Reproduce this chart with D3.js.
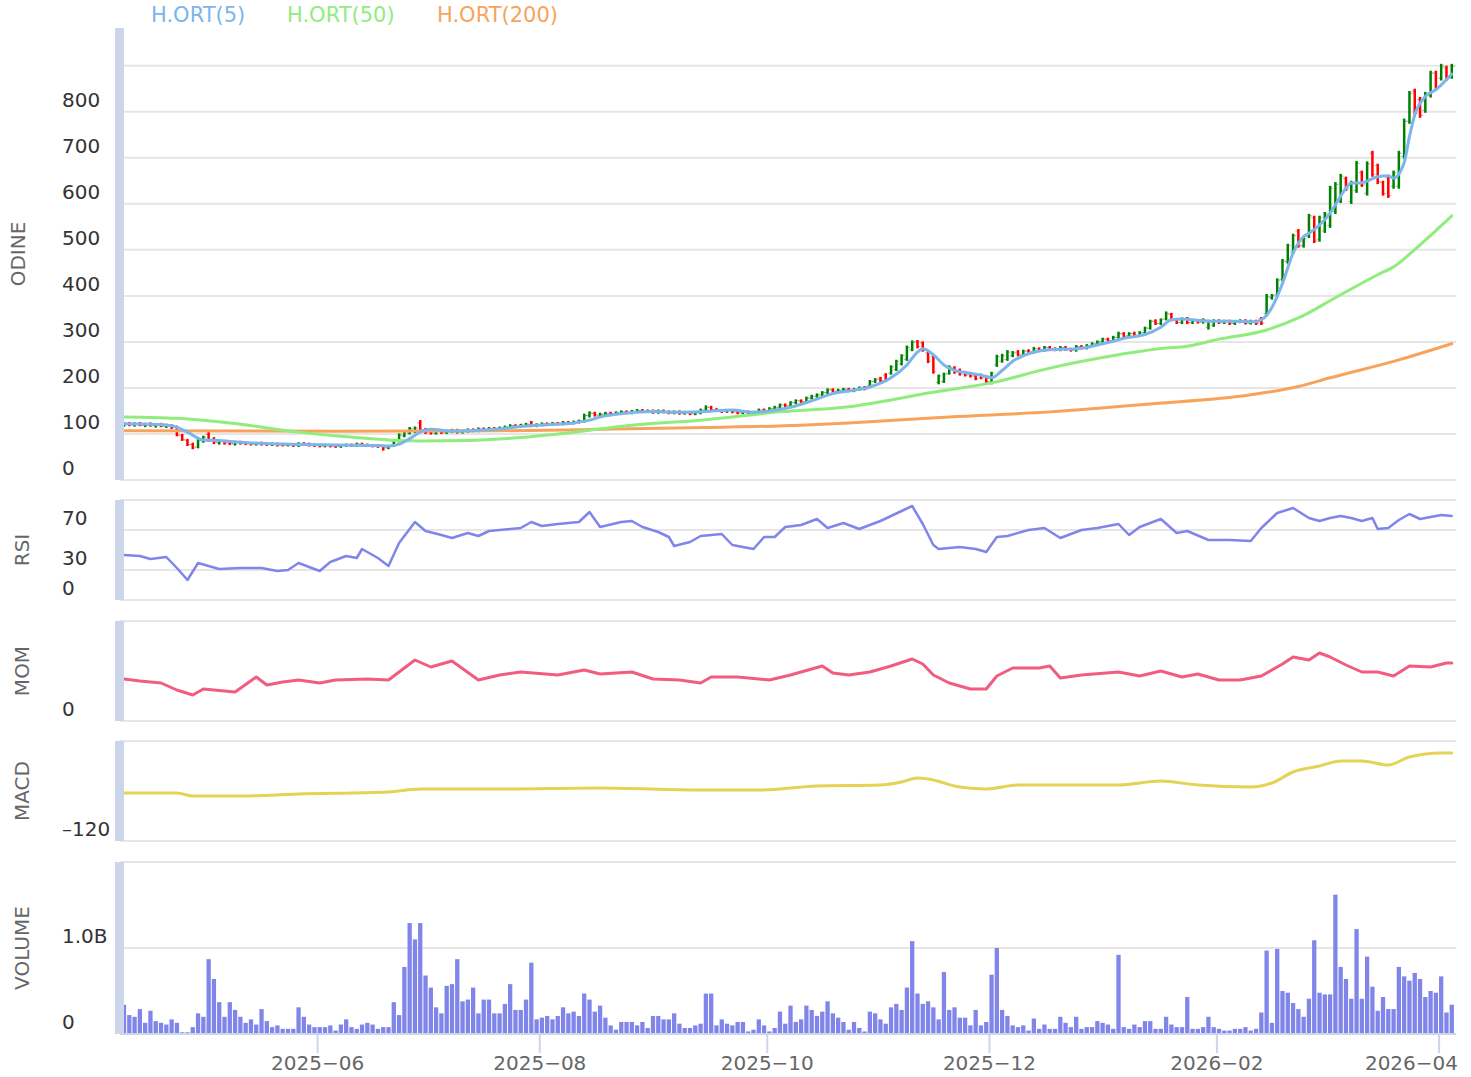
<!DOCTYPE html>
<html>
<head>
<meta charset="utf-8">
<script src="https://cdn.jsdelivr.net/npm/d3@7.9.0/dist/d3.min.js"></script>
<style>
  body { margin: 0; background: #fff; }
  svg { display: block; font-family: "DejaVu Sans", sans-serif; }
</style>
</head>
<body>
<svg id="chart" width="1471" height="1077"></svg>
<script>
// trading calendar
const firstDay = '2025-04-08';
const barCount = 252;
const holidays = ['2025-04-18', '2025-05-26', '2025-06-19', '2025-07-04', '2025-11-27', '2025-12-25', '2026-01-01'];
const monthTicks = ['2025-06', '2025-08', '2025-10', '2025-12', '2026-02', '2026-04'];

// [open, high, low, close]
const ohlc = [
  [120,123,118,121],[121,124,119,120],[120,123,118,122],[122,124,119,119],[119,122,117,121],
  [121,123,118,118],[118,121,116,120],[120,122,117,117],[117,120,115,118],[118,119,113,114],
  [114,116,97,98],[97,98,87,88],[86,87,76,77],[77,79,69,70],[72,87,71,86],
  [85,94,83,93],[99,102,85,86],[88,91,80,82],[81,86,79,85],[84,85,79,80],
  [81,82,78,79],[78,83,77,82],[82,83,79,80],[80,81,78,79],[79,80,77,78],
  [78,80,77,79],[80,81,77,78],[78,79,76,77],[77,79,76,78],[78,79,75,76],
  [77,78,75,76],[76,78,75,77],[77,78,74,75],[75,80,74,79],[79,80,77,78],
  [78,79,75,76],[76,77,74,75],[75,76,73,74],[74,76,73,75],[75,76,73,74],
  [74,75,72,73],[73,76,72,75],[75,77,74,76],[76,77,74,75],[75,79,74,78],
  [78,79,75,76],[76,77,74,75],[75,76,73,74],[74,75,72,73],[73,74,66,70],
  [70,74,69,73],[75,84,74,83],[85,99,84,98],[96,106,95,105],[102,113,101,112],
  [106,114,104,113],[124,128,107,108],[110,111,102,103],[106,107,101,102],[102,107,101,106],
  [106,107,102,103],[103,106,102,105],[105,109,104,108],[108,109,103,104],[104,107,103,106],
  [106,110,105,109],[109,110,106,107],[107,112,106,111],[111,112,108,109],[109,113,108,112],
  [112,113,109,110],[110,114,109,113],[113,116,112,115],[115,119,114,118],[118,119,115,116],
  [116,120,115,119],[119,122,118,121],[121,126,117,118],[118,121,117,120],[120,123,119,122],
  [122,123,120,121],[121,124,120,123],[123,124,121,122],[122,126,121,125],[125,126,123,124],
  [124,127,123,126],[126,129,125,128],[128,142,127,140],[140,147,138,145],[145,146,140,141],
  [141,144,140,143],[143,146,142,145],[145,146,143,144],[144,147,143,146],[146,149,145,148],
  [148,149,145,146],[146,150,145,149],[149,152,148,151],[151,152,148,149],[149,151,148,150],
  [150,151,146,147],[147,151,146,150],[150,151,147,148],[148,149,145,146],[146,149,145,148],
  [148,149,144,145],[145,148,144,147],[147,148,143,144],[144,147,143,146],[146,153,145,152],
  [152,160,151,158],[158,159,152,153],[153,154,150,151],[151,152,148,149],[149,152,148,151],
  [151,152,147,148],[148,149,145,146],[146,149,145,148],[148,149,144,145],[145,148,144,147],
  [147,153,146,152],[152,153,149,150],[150,156,149,155],[155,159,154,158],[158,164,157,163],
  [163,164,160,161],[161,169,160,168],[168,173,167,172],[172,173,169,170],[170,179,169,178],
  [178,183,177,182],[182,186,181,185],[185,191,184,190],[190,197,189,196],[196,197,192,193],
  [193,196,192,195],[195,198,194,197],[197,198,193,194],[194,198,193,197],[197,201,196,200],
  [200,202,197,198],[205,215,204,214],[214,219,213,218],[220,222,215,216],[228,230,219,220],
  [232,247,231,246],[240,259,239,258],[252,271,251,270],[262,290,261,288],[283,301,282,300],
  [300,302,288,290],[298,299,281,282],[276,277,256,258],[268,270,233,235],[212,227,210,226],
  [214,231,213,230],[232,247,231,245],[243,245,233,235],[238,240,229,230],[234,235,227,228],
  [230,231,225,226],[226,228,219,220],[228,229,221,222],[224,225,210,214],[212,233,210,232],
  [250,270,248,268],[258,272,257,270],[262,280,261,278],[270,278,269,276],[278,280,271,272],
  [272,281,271,280],[280,282,277,278],[278,287,277,285],[285,286,281,282],[282,289,281,288],
  [288,289,284,285],[285,286,282,283],[283,289,282,288],[288,289,283,284],[284,285,281,282],
  [282,291,281,290],[290,291,286,287],[287,293,286,292],[292,297,291,296],[296,301,295,300],
  [300,307,299,306],[306,307,302,303],[303,311,302,310],[310,320,309,318],[318,319,311,312],
  [314,319,313,318],[318,320,313,314],[314,321,313,320],[320,331,319,330],[330,346,329,345],
  [345,347,339,340],[340,349,339,348],[350,364,349,362],[360,361,347,348],[348,349,341,342],
  [342,351,341,350],[350,352,341,342],[342,347,341,346],[346,347,342,343],[343,349,342,348],
  [332,346,329,344],[336,347,335,346],[346,347,341,342],[342,346,341,345],[345,346,339,340],
  [340,345,339,344],[344,347,343,346],[346,347,340,341],[341,346,340,345],[345,346,339,340],
  [350,352,339,341],[362,402,360,398],[396,402,394,400],[402,436,400,434],[436,478,434,476],
  [474,511,472,509],[495,533,493,531],[541,543,507,509],[509,526,507,524],[530,576,528,574],
  [570,572,517,519],[522,572,520,570],[541,580,539,578],[553,637,550,634],[583,645,580,642],
  [607,663,604,660],[655,657,630,632],[605,648,602,646],[629,691,626,688],[668,670,639,641],
  [623,690,620,687],[710,713,661,664],[683,685,645,648],[646,648,620,622],[656,659,615,618],
  [638,670,635,667],[638,713,635,710],[703,783,700,780],[779,843,776,840],[845,848,793,796],
  [827,830,789,792],[803,841,800,838],[836,887,833,884],[884,887,848,851],[873,902,870,899],
  [895,898,870,873],[877,902,874,899]
];

// volume in billions
const volume = [
  0.34,0.22,0.20,0.29,0.13,0.27,0.15,0.13,0.11,0.17,
  0.13,0.02,0.02,0.08,0.24,0.20,0.87,0.64,0.37,0.20,
  0.37,0.28,0.20,0.13,0.17,0.11,0.29,0.15,0.08,0.10,
  0.06,0.06,0.06,0.31,0.20,0.11,0.08,0.08,0.08,0.10,
  0.04,0.11,0.17,0.08,0.06,0.11,0.13,0.11,0.06,0.08,
  0.08,0.37,0.22,0.78,1.29,1.10,1.29,0.68,0.54,0.31,
  0.24,0.56,0.58,0.87,0.38,0.40,0.54,0.24,0.40,0.40,
  0.24,0.24,0.35,0.58,0.28,0.28,0.40,0.83,0.17,0.19,
  0.21,0.17,0.21,0.31,0.24,0.26,0.21,0.47,0.40,0.26,
  0.33,0.19,0.10,0.05,0.14,0.14,0.14,0.10,0.14,0.07,
  0.21,0.21,0.17,0.17,0.24,0.12,0.07,0.07,0.10,0.12,
  0.47,0.47,0.10,0.17,0.12,0.10,0.14,0.14,0.03,0.05,
  0.17,0.10,0.03,0.07,0.26,0.12,0.33,0.14,0.17,0.33,
  0.28,0.21,0.26,0.38,0.24,0.19,0.14,0.05,0.14,0.07,
  0.03,0.26,0.24,0.17,0.12,0.31,0.35,0.28,0.54,1.08,
  0.47,0.35,0.38,0.31,0.17,0.72,0.28,0.31,0.19,0.19,
  0.10,0.28,0.10,0.14,0.69,1.00,0.28,0.21,0.10,0.08,
  0.10,0.04,0.18,0.06,0.11,0.06,0.06,0.20,0.13,0.08,
  0.20,0.06,0.08,0.08,0.15,0.13,0.11,0.06,0.92,0.08,
  0.06,0.11,0.08,0.15,0.15,0.06,0.06,0.20,0.11,0.08,
  0.08,0.43,0.06,0.06,0.08,0.20,0.08,0.06,0.04,0.04,
  0.06,0.06,0.08,0.04,0.06,0.25,0.97,0.13,0.99,0.50,
  0.48,0.36,0.29,0.20,0.41,1.09,0.48,0.46,0.46,1.62,
  0.78,0.64,0.41,1.22,0.41,0.90,0.55,0.27,0.43,0.29,
  0.29,0.78,0.67,0.62,0.71,0.64,0.43,0.50,0.48,0.67,
  0.25,0.34
];

// [bar index, value]
const ma5 = [
  [0,122],[5,121],[9,118],[12,104],[15,87],[18,86],[22,82],[30,78],[40,76],[48,75],[50,74],
  [52,78],[54,90],[56,104],[58,110],[62,106],[66,107],[70,110],[75,116],[80,120],[85,124],
  [88,130],[90,137],[93,143],[100,149],[105,147],[110,149],[115,152],[119,147],[122,150],
  [126,158],[130,172],[134,188],[138,195],[141,202],[145,222],[148,250],[150,278],[151,285],
  [153,272],[155,250],[157,238],[160,232],[163,225],[164,222],[166,238],[168,258],[170,270],
  [175,283],[180,285],[185,296],[190,310],[193,316],[196,332],[198,348],[200,350],[205,345],
  [210,345],[214,344],[215,348],[216,358],[217,375],[219,427],[221,493],[223,529],[224,536],
  [226,554],[228,580],[229,598],[231,634],[232,645],[234,646],[237,659],[239,661],[240,656],
  [242,689],[243,746],[244,793],[246,833],[248,848],[251,882]
];
const ma50 = [
  [0,137],[10,134],[20,124],[33,104],[45,91],[50,87],[56,85],[65,86],[71,89],[82,100],
  [97,120],[109,130],[124,148],[137,159],[145,174],[152,189],[164,211],[175,243],[188,272],
  [197,287],[200,289],[207,306],[216,326],[222,352],[229,396],[237,446],[240,463],[245,511],[251,574]
];
const ma200 = [
  [0,107],[40,106],[71,107],[90,110],[110,114],[128,119],[137,124],[156,137],[175,148],
  [194,165],[213,185],[222,203],[228,222],[241,261],[251,296]
];
const rsi = [
  [0,45],[3,44],[5,41],[8,43],[10,32],[12,20],[14,37],[18,31],[22,32],[26,32],[29,29],[31,30],
  [33,37],[37,29],[39,38],[42,44],[44,42],[45,51],[48,42],[50,34],[52,57],[55,78],[57,69],
  [60,65],[62,62],[65,67],[67,64],[69,69],[75,72],[77,78],[79,74],[82,76],[86,78],[88,88],
  [90,73],[94,78],[96,79],[98,73],[101,68],[103,63],[104,54],[107,58],[109,64],[113,66],
  [115,55],[119,51],[121,63],[123,63],[125,73],[128,75],[131,81],[133,72],[136,77],[139,71],
  [143,79],[147,89],[149,94],[151,76],[153,55],[154,51],[158,53],[161,51],[163,48],[165,63],
  [167,64],[171,70],[174,72],[177,62],[181,70],[184,72],[188,76],[190,65],[192,73],[196,81],
  [199,67],[201,69],[205,60],[209,60],[213,59],[215,72],[218,87],[221,92],[224,82],[226,79],
  [228,82],[230,84],[232,82],[234,79],[236,82],[237,71],[239,72],[241,80],[243,86],[245,81],
  [247,83],[249,85],[251,84]
];
const mom = [
  [0,42],[3,40],[7,38],[10,31],[13,26],[15,32],[21,29],[25,44],[27,36],[30,39],[33,41],
  [37,38],[40,41],[46,42],[50,41],[55,61],[58,54],[62,60],[67,41],[71,46],[75,49],[82,46],
  [87,51],[90,47],[96,49],[100,42],[105,41],[109,38],[111,44],[116,44],[122,41],[126,46],
  [132,55],[134,48],[137,46],[141,49],[145,55],[149,62],[151,57],[153,46],[156,38],[160,32],
  [163,32],[165,45],[168,53],[173,53],[175,55],[177,43],[181,46],[188,49],[192,45],[196,50],
  [200,44],[203,47],[207,41],[211,41],[215,45],[219,57],[221,64],[224,61],[226,68],[228,64],
  [231,56],[234,49],[237,49],[240,45],[243,55],[247,54],[250,58],[251,58]
];
const macd = [
  [0,-72],[10,-72],[13,-75],[22,-75],[33,-73],[50,-71],[56,-68],[71,-68],[90,-67],[109,-69],
  [120,-69],[131,-65],[143,-64],[147,-61],[150,-57],[152,-58],[158,-66],[163,-68],[169,-64],
  [181,-64],[188,-64],[196,-60],[203,-64],[213,-66],[217,-62],[221,-51],[226,-45],[230,-40],
  [234,-40],[239,-44],[243,-36],[249,-32],[251,-32]
];

// build trading days
const parse = d3.utcParse('%Y-%m-%d');
const fmtDay = d3.utcFormat('%Y-%m-%d');
const fmtMonth = d3.utcFormat('%Y-%m');
const dates = [];
for (let d = parse(firstDay); dates.length < barCount; d = d3.utcDay.offset(d, 1)) {
  const wd = d.getUTCDay();
  if (wd === 0 || wd === 6 || holidays.includes(fmtDay(d))) continue;
  dates.push(d);
}

const svg = d3.select('#chart');
const left = 124, right = 1456;
const x = d3.scaleLinear().domain([0, barCount - 0.2]).range([left, right]);
const step = x(1) - x(0);

const gridColor = '#e6e6e6';
const stripeColor = '#ccd6eb';
const textColor = '#333';

const panels = [
  { title: 'ODINE', top: 28, bottom: 480, domain: [0, 982], grid: d3.range(0, 901, 100), labels: d3.range(0, 801, 100), titleX: 25 },
  { title: 'RSI', top: 500, bottom: 600, domain: [0, 100], grid: [0, 30, 70, 100], labels: [0, 30, 70], titleX: 29 },
  { title: 'MOM', top: 621, bottom: 721, domain: [0, 100], grid: [0, 100], labels: [0], titleX: 29 },
  { title: 'MACD', top: 741, bottom: 841, domain: [-120, -20], grid: [-120, -20], labels: [-120], titleX: 29 },
  { title: 'VOLUME', top: 862, bottom: 1034, domain: [0, 2], grid: [0, 1, 2], labels: [0, 1], titleX: 29, fmt: d => d === 0 ? '0' : d.toFixed(1) + 'B' }
];

svg.append('defs').append('clipPath').attr('id', 'plotclip')
  .append('rect').attr('x', left).attr('y', 0).attr('width', right - left).attr('height', 1077);

panels.forEach(p => {
  p.y = d3.scaleLinear().domain(p.domain).range([p.bottom, p.top]);
  const g = svg.append('g');
  g.selectAll('line.grid')
    .data(p.grid)
    .join('line')
    .attr('x1', 120).attr('x2', right)
    .attr('y1', d => p.y(d)).attr('y2', d => p.y(d))
    .attr('stroke', gridColor).attr('stroke-width', 2);
  g.append('rect')
    .attr('x', 115).attr('y', p.top).attr('width', 9).attr('height', p.bottom - p.top)
    .attr('fill', stripeColor);
  g.selectAll('text.lab')
    .data(p.labels)
    .join('text')
    .attr('x', 62).attr('y', d => p.y(d) - 5)
    .attr('font-size', 20).attr('fill', textColor)
    .text(d => p.fmt ? p.fmt(d) : String(d).replace('-', '\u2013'));
  g.append('text')
    .attr('transform', `translate(${p.titleX},${(p.top + p.bottom) / 2}) rotate(-90)`)
    .attr('text-anchor', 'middle')
    .attr('font-size', 20).attr('fill', '#666')
    .text(p.title);
});

const [pricePanel, rsiPanel, momPanel, macdPanel, volPanel] = panels;

// volume bars
svg.append('g').attr('clip-path', 'url(#plotclip)')
  .selectAll('rect')
  .data(volume)
  .join('rect')
  .attr('x', (d, i) => x(i) - (step - 1) / 2)
  .attr('width', step - 1)
  .attr('y', d => volPanel.y(d))
  .attr('height', d => volPanel.bottom - volPanel.y(d))
  .attr('fill', '#8085e9');

// ohlc bars
const bars = svg.append('g').attr('clip-path', 'url(#plotclip)')
  .selectAll('g')
  .data(ohlc)
  .join('g')
  .attr('stroke', d => d[3] >= d[0] ? '#008000' : '#ff0000');
bars.append('line')
  .attr('x1', (d, i) => x(i)).attr('x2', (d, i) => x(i))
  .attr('y1', d => pricePanel.y(d[1]) - 1).attr('y2', d => pricePanel.y(d[2]) + 1)
  .attr('stroke-width', 2.5);
bars.append('line')
  .attr('x1', (d, i) => x(i) - 3).attr('x2', (d, i) => x(i))
  .attr('y1', d => pricePanel.y(d[0])).attr('y2', d => pricePanel.y(d[0]))
  .attr('stroke-width', 1).attr('stroke-opacity', 0.45);
bars.append('line')
  .attr('x1', (d, i) => x(i)).attr('x2', (d, i) => x(i) + 3)
  .attr('y1', d => pricePanel.y(d[3])).attr('y2', d => pricePanel.y(d[3]))
  .attr('stroke-width', 1).attr('stroke-opacity', 0.45);

function drawLine(data, panel, color, width, curve) {
  const line = d3.line()
    .x(d => x(d[0]))
    .y(d => panel.y(d[1]))
    .curve(curve);
  svg.append('path')
    .datum(data)
    .attr('clip-path', 'url(#plotclip)')
    .attr('d', line)
    .attr('fill', 'none')
    .attr('stroke', color)
    .attr('stroke-width', width)
    .attr('stroke-linejoin', 'round')
    .attr('stroke-linecap', 'round');
}

drawLine(ma200, pricePanel, '#f7a35c', 3, d3.curveMonotoneX);
drawLine(ma50, pricePanel, '#90ed7d', 3, d3.curveMonotoneX);
drawLine(ma5, pricePanel, '#7cb5ec', 3, d3.curveMonotoneX);
drawLine(rsi, rsiPanel, '#8085e9', 2.5, d3.curveLinear);
drawLine(mom, momPanel, '#f15c80', 3, d3.curveLinear);
drawLine(macd, macdPanel, '#e4d354', 3, d3.curveMonotoneX);

// x axis
svg.append('line')
  .attr('x1', 120).attr('x2', right).attr('y1', 1034).attr('y2', 1034)
  .attr('stroke', stripeColor).attr('stroke-width', 2);
const tickIdx = monthTicks.map(m => dates.findIndex(d => fmtMonth(d) === m) - 0.4);
const xt = svg.append('g').selectAll('g').data(monthTicks).join('g')
  .attr('transform', (d, i) => `translate(${x(tickIdx[i])},0)`);
xt.append('line').attr('y1', 1035).attr('y2', 1053).attr('stroke', stripeColor).attr('stroke-width', 2);
xt.append('text')
  .attr('y', 1070).attr('text-anchor', 'middle')
  .attr('font-size', 20).attr('fill', '#666')
  .text(d => d.replace('-', '\u2212'))
  .each(function () {
    // keep the last label inside the plot's right edge
    const box = this.getBBox();
    const tx = +this.parentNode.getAttribute('transform').match(/translate\(([\d.]+)/)[1];
    const overflow = tx + box.x + box.width - (right + 2);
    if (overflow > 0) d3.select(this).attr('x', -overflow);
  });

// legend
const legend = [
  { name: 'H.ORT(5)', color: '#7cb5ec', x: 151 },
  { name: 'H.ORT(50)', color: '#90ed7d', x: 287 },
  { name: 'H.ORT(200)', color: '#f7a35c', x: 437 }
];
svg.append('g').selectAll('text').data(legend).join('text')
  .attr('x', d => d.x).attr('y', 22)
  .attr('font-size', 21).attr('fill', d => d.color)
  .text(d => d.name);
</script>
</body>
</html>
